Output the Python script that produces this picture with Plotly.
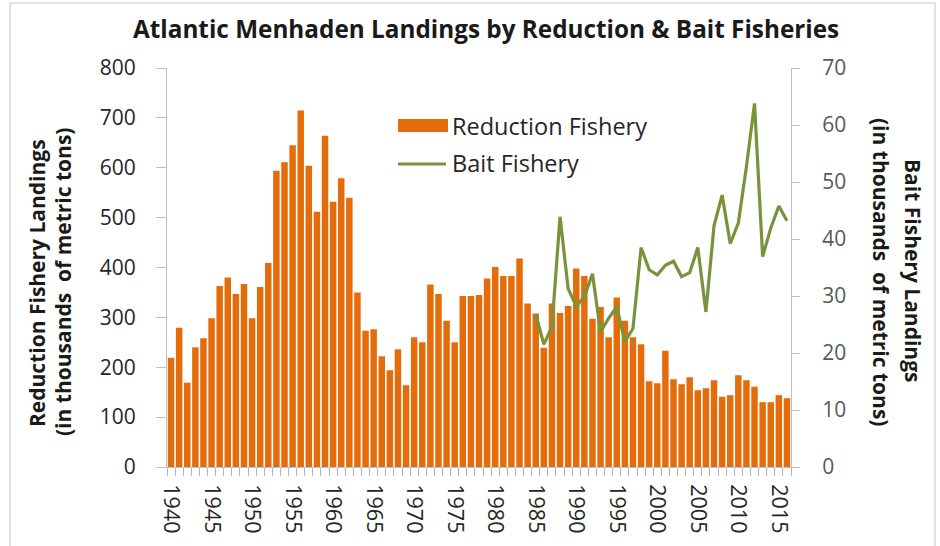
import plotly.graph_objects as go

years = list(range(1940, 2017))
reduction = [219, 279, 169, 240, 258, 298, 363, 380, 347, 367,
             298, 361, 409, 594, 611, 645, 715, 604, 512, 664,
             532, 579, 540, 350, 273, 276, 222, 194, 236, 164,
             260, 250, 366, 347, 293, 250, 343, 343, 345, 378,
             401, 383, 383, 418, 328, 308, 239, 328, 309, 323,
             398, 383, 297, 321, 260, 340, 293, 260, 246, 172,
             168, 233, 176, 166, 180, 154, 158, 174, 141, 144,
             184, 174, 161, 130, 130, 144, 138]
bait_years = list(range(1985, 2017))
bait = [26.8, 21.5, 24.6, 43.9, 31.3, 28.2, 29.9, 33.9, 23.7, 26.1,
        28.1, 22.0, 24.3, 38.5, 34.6, 33.7, 35.4, 36.1, 33.4, 34.1,
        38.5, 27.2, 42.3, 47.7, 39.2, 42.8, 52.7, 63.8, 36.9, 41.9,
        45.8, 43.2]
x_labels = list(range(1940, 2016, 5))

TITLE = "Atlantic Menhaden Landings by Reduction & Bait Fisheries"
ORANGE = "#E46C0A"
GREEN = "#77933C"
AXIS = "#BFBFBF"
FONT = "Open Sans"

# plot area in pixels
L, R, T, B = 167, 791, 68, 467
W, H = 940, 546
def px(x):
    return (x - L) / (R - L)
def py(y):
    return (B - y) / (B - T)

fig = go.Figure()
fig.add_trace(go.Bar(x=years, y=reduction, name="Reduction Fishery",
                     marker=dict(color=ORANGE, line=dict(width=0)),
                     showlegend=False))
fig.add_trace(go.Scatter(x=bait_years, y=bait, name="Bait Fishery", yaxis="y2",
                         mode="lines", line=dict(color=GREEN, width=3.2),
                         showlegend=False))

fig.update_layout(
    width=W, height=H,
    margin=dict(l=L, r=W - R, t=T, b=H - B, pad=0),
    paper_bgcolor="white", plot_bgcolor="white",
    bargap=0.2,
    font=dict(family=FONT, color="#404040"),
    xaxis=dict(range=[1939.5, 2016.5], tickmode="array", tickvals=x_labels,
               ticktext=[str(v) for v in x_labels], tickangle=90,
               tickfont=dict(size=21.5, color="#262626"),
               showline=True, linecolor=AXIS, linewidth=1,
               showgrid=False, zeroline=False, ticks="",
               ticklabelstandoff=12,
               minor=dict(tick0=1939.5, dtick=1, ticks="outside", ticklen=8,
                          tickcolor="#A9B4CC", showgrid=False)),
    yaxis=dict(range=[0, 800], dtick=100, ticks="outside", ticklen=10,
               tickcolor=AXIS, showline=True, linecolor=AXIS, linewidth=1,
               showgrid=False, zeroline=False,
               tickfont=dict(size=21, color="#262626"),
               ticklabelstandoff=16),
    yaxis2=dict(range=[0, 70], dtick=10, overlaying="y", side="right",
                ticks="outside", ticklen=8, tickcolor=AXIS, showline=True,
                linecolor=AXIS, linewidth=1, showgrid=False, zeroline=False,
                tickfont=dict(size=21, color="#595959"),
                ticklabelstandoff=18),
)

def ann(text, x, y, size, angle=0, xanchor="center", color="#1A1A1A"):
    return dict(text=text, x=px(x), y=py(y), xref="paper", yref="paper",
                textangle=angle, xanchor=xanchor, yanchor="middle",
                showarrow=False, borderpad=0,
                font=dict(size=size, color=color, family=FONT))

anns = [
    ann("<b>" + TITLE + "</b>", 485.5, 28, 24.3),
    ann("<b>Reduction Fishery Landings</b>", 37, 283, 21, -90),
    ann("<b>(in thousands  of metric tons)</b>", 63, 282, 21, -90),
    ann("<b>Bait Fishery Landings</b>", 913, 270, 21, 90),
    ann("<b>(in thousands  of metric tons)</b>", 881, 272, 21, 90),
    ann("Reduction Fishery", 451, 125.5, 23.5, 0, "left", "#262626"),
    ann("Bait Fishery", 451, 163, 23.5, 0, "left", "#262626"),
]
fig.update_layout(annotations=anns)

shapes = [
    dict(type="rect", xref="paper", yref="paper", x0=px(398), x1=px(448),
         y0=py(132), y1=py(119), fillcolor=ORANGE, line=dict(width=0)),
    dict(type="line", xref="paper", yref="paper", x0=px(398), x1=px(446),
         y0=py(164), y1=py(164), line=dict(color=GREEN, width=3.2)),
    dict(type="rect", xref="paper", yref="paper", x0=px(10), x1=px(935),
         y0=py(560), y1=py(3), line=dict(color="#D9D9D9", width=1.5),
         fillcolor="rgba(0,0,0,0)", layer="below"),
]
fig.update_layout(shapes=shapes)

fig.write_html("out.html", config={"displayModeBar": False},
               post_script="document.body.style.margin='0';document.body.style.overflow='hidden';")
